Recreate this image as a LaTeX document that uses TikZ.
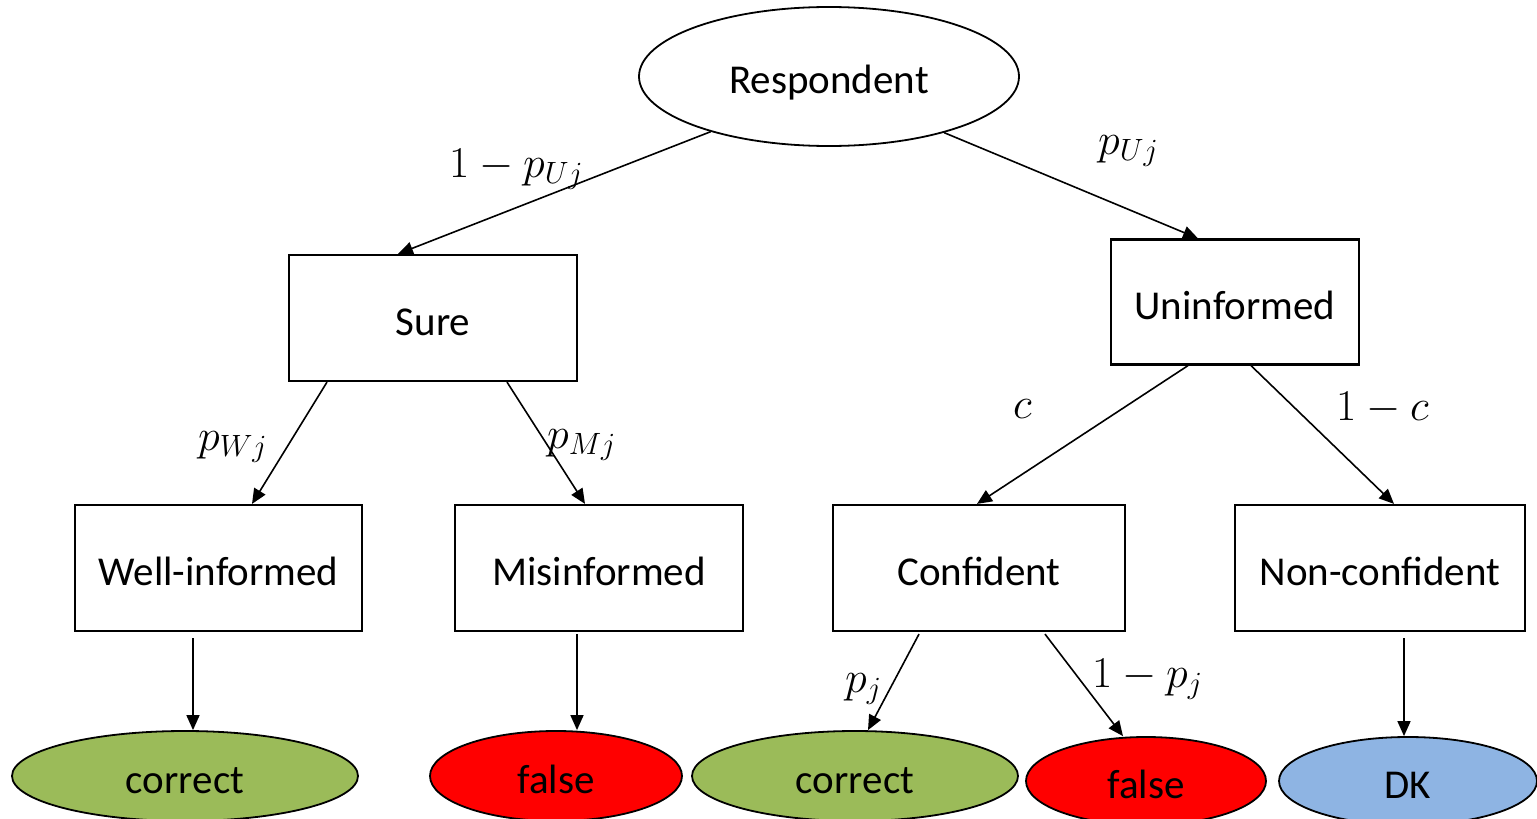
\RequirePackage{fix-cm}
\documentclass[tikz,border=0pt]{standalone}
\usepackage[no-math]{fontspec}
\setmainfont{Carlito}
\usetikzlibrary{shapes.geometric,arrows.meta}
\definecolor{okgreen}{RGB}{155,187,89}
\definecolor{badred}{RGB}{255,0,0}
\definecolor{dkblue}{RGB}{142,180,227}
\begin{document}
\begin{tikzpicture}[x=1pt,y=-1pt,
  txt/.style={font=\fontsize{41}{49}\selectfont, text height=34pt, text depth=0pt},
  box/.style={draw, line width=2.2pt, inner sep=0pt, txt},
  oval/.style={ellipse, draw, line width=1.8pt, inner sep=0pt, txt},
  arr/.style={-{Triangle[length=15pt,width=13pt]}, line width=1.6pt},
  lbl/.style={anchor=base west, inner sep=0pt, font=\fontsize{44}{52}\selectfont}]
\useasboundingbox (0,0) rectangle (1537,819);

% top of the tree
\node[oval, minimum width=380pt, minimum height=139pt] (resp) at (829,76.5) {Respondent};
\node[box, minimum width=288pt, minimum height=126pt] (sure) at (433,318) {Sure};
\node[box, minimum width=248pt, minimum height=125pt] (unin) at (1235,302) {Uninformed};

% second level
\node[box, minimum width=287pt, minimum height=126pt] (well) at (218.5,568) {Well-informed};
\node[box, minimum width=288pt, minimum height=126pt] (mis) at (599,568) {Misinformed};
\node[box, minimum width=292pt, minimum height=126pt] (conf) at (979,568) {Confident};
\node[box, minimum width=290pt, minimum height=126pt] (non) at (1380,568) {Non-confident};

% outcomes
\node[oval, fill=okgreen, minimum width=346pt, minimum height=90pt] (corr1) at (185,776) {correct};
\node[oval, fill=badred, minimum width=252pt, minimum height=90pt] (fls1) at (556,776) {false};
\node[oval, fill=okgreen, minimum width=326pt, minimum height=90pt] (corr2) at (855,776) {correct};
\node[oval, fill=badred, minimum width=240pt, minimum height=88pt] (fls2) at (1146,781) {false};
\node[oval, fill=dkblue, minimum width=258pt, minimum height=88pt] (dk) at (1408,781) {DK};

% branches
\draw[arr] (resp.205.6) -- ([xshift=-35pt]sure.north);
\draw[arr] (resp.334.6) -- ([xshift=-37pt]unin.north);
\draw[arr] ([xshift=-106pt]sure.south) -- ([xshift=33.5pt]well.north);
\draw[arr] ([xshift=74pt]sure.south) -- ([xshift=-14pt]mis.north);
\draw[arr] ([xshift=-47pt]unin.south) -- ([xshift=-2pt]conf.north);
\draw[arr] ([xshift=16pt]unin.south) -- ([xshift=14pt]non.north);
\draw[arr] ([xshift=-25.5pt,yshift=-6pt]well.south) -- ([xshift=8pt]corr1.north);
\draw[arr] ([xshift=-22pt,yshift=-2pt]mis.south) -- ([xshift=21pt]fls1.north);
\draw[arr] ([xshift=-60pt,yshift=-2pt]conf.south) -- ([xshift=13pt]corr2.north);
\draw[arr] ([xshift=66pt,yshift=-2pt]conf.south) -- ([xshift=-23pt]fls2.north);
\draw[arr] ([xshift=24pt,yshift=-6pt]non.south) -- ([xshift=-4pt]dk.north);

% branch probabilities
\node[lbl] (l1) at (449,177) {$1-p_{Uj}$};
\node[lbl] (l2) at (1098,154) {$p_{Uj}$};
\node[lbl] (l3) at (198,450) {$p_{Wj}$};
\node[lbl] (l4) at (547,448) {$p_{Mj}$};
\node[lbl] (l5) at (1013,418) {$c$};
\node[lbl] (l6) at (1336,420) {$1-c$};
\node[lbl] (l7) at (845,692) {$p_j$};
\node[lbl] (l8) at (1092,687) {$1-p_j$};
\end{tikzpicture}
\end{document}
